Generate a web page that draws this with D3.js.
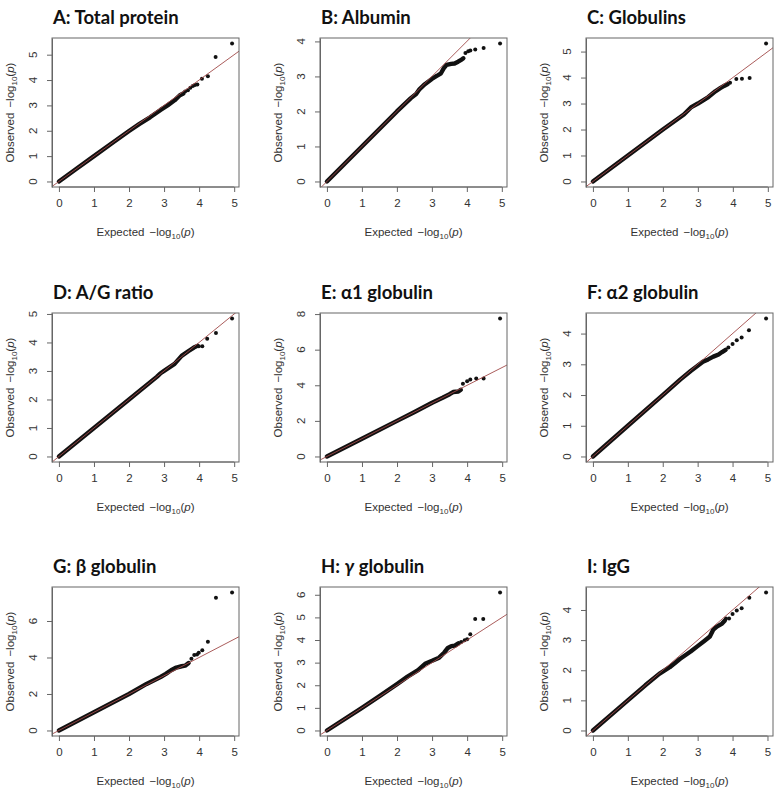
<!DOCTYPE html>
<html>
<head>
<meta charset="utf-8">
<script src="https://cdn.jsdelivr.net/npm/d3@7"></script>
<style>
  html, body { margin: 0; padding: 0; background: #fff; }
  svg { display: block; }
</style>
</head>
<body>
<svg id="chart" width="779" height="793"></svg>
<script>
// ---------------- data ----------------
const titles = ["A: Total protein", "B: Albumin", "C: Globulins",
                "D: A/G ratio", "E: \u03b11 globulin", "F: \u03b12 globulin",
                "G: \u03b2 globulin", "H: \u03b3 globulin", "I: IgG"];
const xTicks = [0, 1, 2, 3, 4, 5];
const yTicksA = [0, 1, 2, 3, 4, 5];
const yTicksB = [0, 1, 2, 3, 4];
const yTicksC = [0, 1, 2, 3, 4, 5];
const yTicksD = [0, 1, 2, 3, 4, 5];
const yTicksE = [0, 2, 4, 6, 8];
const yTicksF = [0, 1, 2, 3, 4];
const yTicksG = [0, 2, 4, 6];
const yTicksH = [0, 1, 2, 3, 4, 5, 6];
const yTicksI = [0, 1, 2, 3, 4];

// dense body of each QQ plot: [expected, observed]
const bandA = [[0,0],[0.5,0.5],[1,1],[1.5,1.5],[2,1.99],[2.3,2.27],[2.6,2.53],[2.9,2.82],[3.1,3.0],[3.3,3.2],[3.45,3.4],[3.55,3.47]];
const bandB = [[0,0],[1,1],[2,2],[2.4,2.38],[2.55,2.5],[2.65,2.64],[2.8,2.78],[3.0,2.93],[3.15,3.02],[3.26,3.09],[3.35,3.25],[3.42,3.33],[3.55,3.36],[3.65,3.37],[3.75,3.42],[3.85,3.48],[3.9,3.52]];
const bandC = [[0,0],[1,1],[2,2],[2.6,2.58],[2.8,2.85],[3.0,3.0],[3.3,3.25],[3.5,3.47],[3.65,3.6],[3.75,3.68],[3.85,3.74]];
const bandD = [[0,0],[1,1],[2,2],[2.8,2.8],[2.9,2.92],[3.0,3.0],[3.3,3.25],[3.5,3.53],[3.7,3.7],[3.85,3.82],[3.95,3.88]];
const bandE = [[0,0],[1,1],[2,2],[2.5,2.5],[3,3.02],[3.3,3.3],[3.5,3.5],[3.6,3.62],[3.75,3.65],[3.82,3.75]];
const bandF = [[0,0],[1,1],[2,2],[2.5,2.5],[2.8,2.78],[3.0,2.95],[3.15,3.08],[3.3,3.16],[3.45,3.25],[3.6,3.32],[3.7,3.4],[3.8,3.47]];
const bandG = [[0,0],[1,1],[2,2],[2.5,2.55],[2.9,2.93],[3.05,3.1],[3.2,3.3],[3.35,3.45],[3.5,3.52],[3.6,3.55],[3.7,3.7]];
const bandH = [[0,0],[1,1],[1.5,1.52],[2,2.05],[2.3,2.38],[2.6,2.67],[2.8,2.95],[3.0,3.08],[3.2,3.22],[3.35,3.45],[3.45,3.65],[3.55,3.73],[3.65,3.75],[3.75,3.85]];
const bandI = [[0,0],[1,1],[1.5,1.5],[1.9,1.88],[2.2,2.1],[2.5,2.38],[2.8,2.62],[3.0,2.8],[3.2,2.98],[3.35,3.12],[3.45,3.35],[3.55,3.45],[3.7,3.55],[3.78,3.65]];

// individually visible top points: [expected, observed]
const tailA = [[3.6,3.55],[3.68,3.6],[3.75,3.7],[3.82,3.76],[3.88,3.8],[3.95,3.82],[4.08,4.05],[4.25,4.15],[4.47,4.91],[4.94,5.44]];
const tailB = [[3.96,3.67],[4.04,3.72],[4.1,3.74],[4.24,3.77],[4.48,3.81],[4.95,3.94]];
const tailC = [[3.92,3.8],[4.1,3.94],[4.26,3.95],[4.48,3.98],[4.95,5.31]];
const tailD = [[3.99,3.87],[4.09,3.87],[4.23,4.13],[4.48,4.33],[4.94,4.84]];
const tailE = [[3.88,4.09],[4.0,4.23],[4.09,4.32],[4.26,4.38],[4.47,4.38],[4.94,7.75]];
const tailF = [[3.88,3.55],[4.0,3.66],[4.12,3.78],[4.26,3.87],[4.47,4.11],[4.96,4.49]];
const tailG = [[3.78,3.93],[3.86,4.13],[3.94,4.17],[3.99,4.26],[4.09,4.4],[4.25,4.86],[4.48,7.28],[4.94,7.56]];
const tailH = [[3.83,3.91],[3.93,3.99],[4.0,4.03],[4.09,4.25],[4.23,4.93],[4.46,4.93],[4.94,6.1]];
const tailI = [[3.81,3.72],[3.9,3.72],[4.0,3.87],[4.12,3.98],[4.26,4.06],[4.48,4.41],[4.96,4.58]];

const bands = [bandA, bandB, bandC, bandD, bandE, bandF, bandG, bandH, bandI];
const tails = [tailA, tailB, tailC, tailD, tailE, tailF, tailG, tailH, tailI];
const yTicks = [yTicksA, yTicksB, yTicksC, yTicksD, yTicksE, yTicksF, yTicksG, yTicksH, yTicksI];

// ---------------- layout ----------------
const colX = [52, 320, 586];
const rowY = [38, 313, 587];
const bw = 187, bh = 149;
const axisFont = "Liberation Sans, Arial, sans-serif";
const titleFont = "Lato, Open Sans, sans-serif";
const boxColor = "#666";
const textColor = "#333";
const lineColor = "#a04a48";

const svg = d3.select("#chart");

function addLogLabel(textSel, prefix) {
  textSel.append("tspan").text(prefix);
  textSel.append("tspan").attr("dx", 5).text("\u2212log");
  textSel.append("tspan").attr("font-size", 8).attr("dy", 3).text("10");
  textSel.append("tspan").attr("dy", -3).text("(");
  textSel.append("tspan").attr("font-style", "italic").text("p");
  textSel.append("tspan").text(")");
}

titles.forEach((title, i) => {
  const c = i % 3, r = Math.floor(i / 3);
  const g = svg.append("g").attr("transform", `translate(${colX[c]},${rowY[r]})`);
  const pts = bands[i].concat(tails[i]);
  const xMax = d3.max(pts, d => d[0]);
  const yMax = d3.max(pts, d => d[1]);
  const x = d3.scaleLinear().domain([-0.04 * xMax, 1.04 * xMax]).range([0, bw]);
  const y = d3.scaleLinear().domain([-0.04 * yMax, 1.04 * yMax]).range([bh, 0]);

  const clipId = "clip" + i;
  g.append("clipPath").attr("id", clipId)
    .append("rect").attr("width", bw).attr("height", bh);

  const plot = g.append("g").attr("clip-path", `url(#${clipId})`);

  // dense body
  plot.append("path")
    .datum(bands[i])
    .attr("d", d3.line().x(d => x(d[0])).y(d => y(d[1])))
    .attr("fill", "none")
    .attr("stroke", "#111")
    .attr("stroke-width", 4.4)
    .attr("stroke-linecap", "round")
    .attr("stroke-linejoin", "round");

  // tail points
  plot.selectAll("circle.pt")
    .data(tails[i])
    .join("circle")
    .attr("class", "pt")
    .attr("cx", d => x(d[0]))
    .attr("cy", d => y(d[1]))
    .attr("r", 2)
    .attr("fill", "#111");

  // y = x reference line
  const lo = -1, hi = 10;
  plot.append("line")
    .attr("x1", x(lo)).attr("y1", y(lo))
    .attr("x2", x(hi)).attr("y2", y(hi))
    .attr("stroke", lineColor)
    .attr("stroke-width", 0.9);

  // box
  g.append("rect").attr("width", bw).attr("height", bh)
    .attr("fill", "none").attr("stroke", boxColor).attr("stroke-width", 1);

  // x axis
  const xa = g.append("g").attr("transform", `translate(0,${bh})`)
    .call(d3.axisBottom(x).tickValues(xTicks).tickFormat(d3.format("d"))
      .tickSize(5).tickSizeOuter(0).tickPadding(7));
  xa.select(".domain").attr("stroke", boxColor).attr("d", `M${x(xTicks[0])},0H${x(xTicks[xTicks.length - 1])}`);
  xa.selectAll(".tick line").attr("stroke", boxColor);
  xa.selectAll(".tick text").attr("font-family", axisFont).attr("font-size", 11.5).attr("fill", textColor);

  // y axis (ticks only; labels drawn rotated below)
  const ya = g.append("g")
    .call(d3.axisLeft(y).tickValues(yTicks[i]).tickFormat("")
      .tickSize(5).tickSizeOuter(0));
  ya.select(".domain").attr("stroke", boxColor);
  ya.selectAll(".tick line").attr("stroke", boxColor);
  ya.selectAll(".tick text").remove();

  g.selectAll("text.ytl")
    .data(yTicks[i])
    .join("text")
    .attr("class", "ytl")
    .attr("transform", d => `translate(-15,${y(d)}) rotate(-90)`)
    .attr("text-anchor", "middle")
    .attr("font-family", axisFont).attr("font-size", 11.5).attr("fill", textColor)
    .text(d => d);

  // axis titles
  const xl = g.append("text")
    .attr("x", bw / 2).attr("y", bh + 49)
    .attr("text-anchor", "middle")
    .attr("font-family", axisFont).attr("font-size", 11.5).attr("fill", textColor);
  addLogLabel(xl, "Expected");

  const yl = g.append("text")
    .attr("transform", `translate(-38,${bh / 2}) rotate(-90)`)
    .attr("text-anchor", "middle")
    .attr("font-family", axisFont).attr("font-size", 11.5).attr("fill", textColor);
  addLogLabel(yl, "Observed");

  // panel title
  const t = g.append("text")
    .attr("x", 1).attr("y", -14)
    .attr("font-family", titleFont).attr("font-weight", "bold")
    .attr("font-size", 18.5).attr("fill", "#111");
  if (title.indexOf("\u03b3") >= 0) {
    const parts = title.split("\u03b3");
    t.append("tspan").text(parts[0]);
    t.append("tspan").attr("font-style", "italic").text("\u03b3");
    t.append("tspan").text(parts[1]);
  } else {
    t.text(title);
  }
});
</script>
</body>
</html>
